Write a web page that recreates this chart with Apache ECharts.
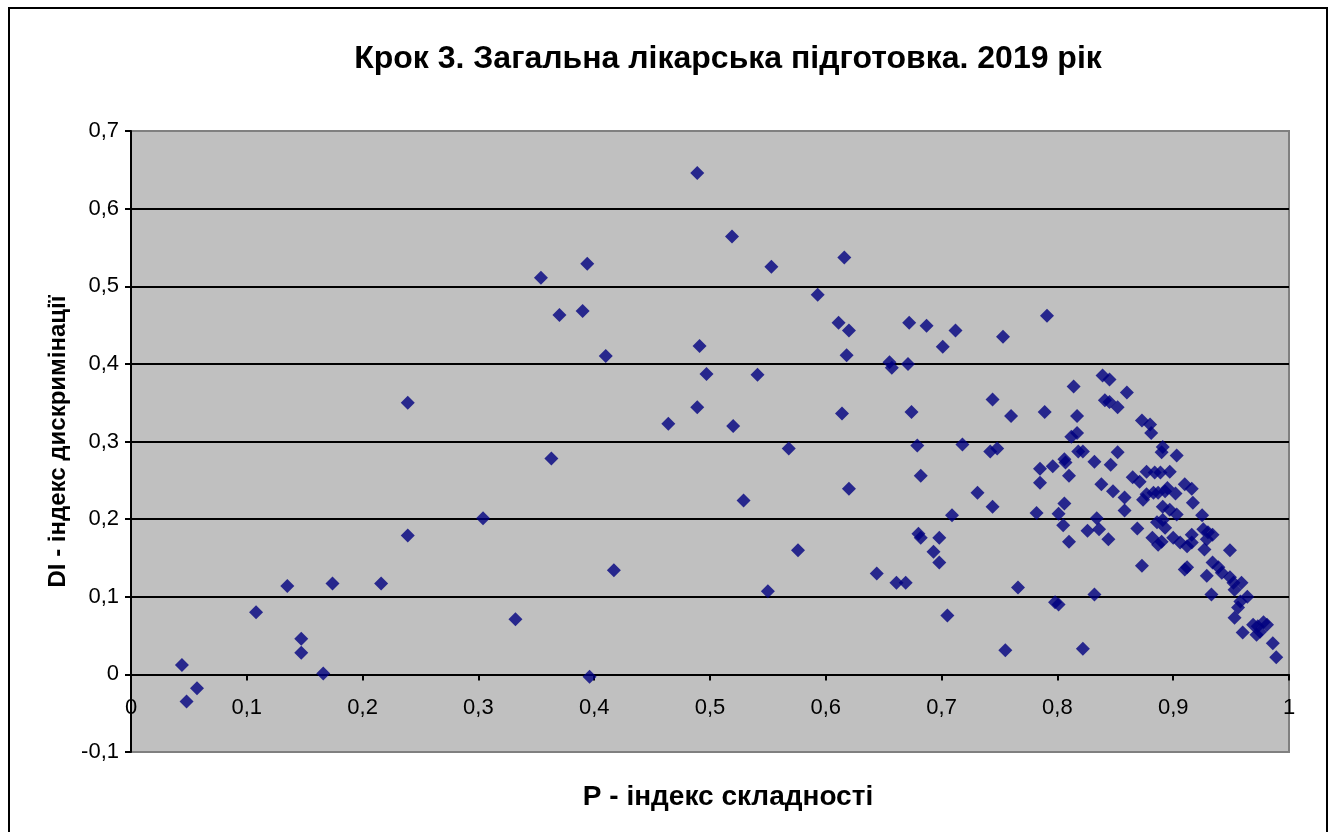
<!DOCTYPE html>
<html>
<head>
<meta charset="utf-8">
<script src="https://cdn.jsdelivr.net/npm/echarts@6/dist/echarts.min.js"></script>
<style>
html,body{margin:0;padding:0;background:#fff;overflow:hidden;}
#frame{position:absolute;left:8px;top:7px;width:1320px;height:840px;border:2px solid #000;box-sizing:border-box;}
#chart{position:absolute;left:0;top:0;width:1335px;height:832px;}
</style>
</head>
<body>
<div id="frame"></div>
<div id="chart"></div>
<script>
const titleText = 'Крок 3. Загальна лікарська підготовка. 2019 рік';
const xAxisName = 'P - індекс складності';
const yAxisName = 'DI - індекс дискримінації';
const xTicks = [0, 0.1, 0.2, 0.3, 0.4, 0.5, 0.6, 0.7, 0.8, 0.9, 1];
const yTicks = [-0.1, 0, 0.1, 0.2, 0.3, 0.4, 0.5, 0.6, 0.7];

// P (difficulty index) values
const pValues = [
0.044,0.048,0.057,0.108,0.135,0.147,0.147,0.166,0.174,0.216,0.239,0.239,0.304,0.332,0.354,0.363,0.370,0.390,0.394,0.396,
0.410,0.417,0.464,0.489,0.489,0.491,0.497,0.520,0.519,0.529,0.553,0.541,0.550,0.568,0.576,0.593,0.611,0.614,0.616,0.618,
0.620,0.620,
0.644,0.655,0.657,0.661,0.669,0.672,0.671,0.674,0.679,0.680,0.682,0.682,0.687,0.693,0.698,0.698,0.701,0.705,0.709,0.712,
0.718,0.731,0.742,0.744,0.744,0.748,0.753,0.755,0.760,0.766,
0.791,0.839,0.845,0.814,0.860,0.841,0.845,0.852,0.789,0.817,0.873,0.880,0.881,0.817,0.812,0.891,0.890,0.903,0.818,0.822,
0.852,0.832,0.806,0.807,0.785,0.796,0.810,0.846,0.785,0.838,0.848,0.865,0.871,0.877,0.884,0.889,0.897,0.910,0.916,0.858,
0.782,0.801,0.806,0.805,0.810,0.798,0.801,0.832,0.822,0.834,0.826,0.836,0.844,0.858,0.877,0.883,0.887,0.893,0.874,0.902,
0.891,0.897,0.903,0.886,0.891,0.893,0.882,0.887,0.890,0.900,0.906,0.912,0.916,0.917,0.925,0.916,0.926,0.930,0.934,0.929,
0.927,0.949,0.910,0.912,0.929,0.934,0.939,0.942,0.949,0.952,0.953,0.959,0.933,0.964,0.958,0.956,0.953,0.960,0.969,0.973,
0.978,0.981,0.972,0.975,0.986,0.989,0.873,0.869,0.895
];
// DI (discrimination index) values
const diValues = [
0.012,-0.035,-0.018,0.080,0.114,0.046,0.028,0.001,0.117,0.117,0.350,0.179,0.201,0.071,0.511,0.278,0.463,0.468,0.529,-0.003,
0.410,0.134,0.323,0.646,0.344,0.423,0.387,0.320,0.564,0.224,0.525,0.386,0.107,0.291,0.160,0.489,0.453,0.336,0.537,0.411,
0.443,0.239,
0.130,0.402,0.395,0.118,0.118,0.453,0.400,0.338,0.295,0.181,0.176,0.256,0.449,0.158,0.144,0.176,0.422,0.076,0.205,0.443,
0.296,0.234,0.287,0.354,0.216,0.291,0.435,0.031,0.333,0.112,
0.462,0.385,0.380,0.371,0.363,0.353,0.351,0.344,0.338,0.333,0.327,0.322,0.311,0.311,0.306,0.293,0.286,0.282,0.287,0.287,
0.286,0.274,0.277,0.273,0.265,0.268,0.256,0.270,0.247,0.245,0.236,0.254,0.248,0.261,0.260,0.260,0.261,0.245,0.239,0.228,
0.208,0.207,0.220,0.192,0.171,0.093,0.090,0.103,0.033,0.201,0.185,0.187,0.174,0.211,0.232,0.234,0.234,0.236,0.225,0.233,
0.216,0.212,0.206,0.196,0.199,0.189,0.176,0.167,0.171,0.176,0.170,0.165,0.170,0.221,0.205,0.180,0.187,0.183,0.180,0.174,
0.161,0.160,0.135,0.138,0.127,0.144,0.138,0.131,0.125,0.118,0.109,0.118,0.103,0.100,0.094,0.086,0.073,0.054,0.064,0.062,
0.067,0.064,0.051,0.055,0.040,0.022,0.140,0.188,0.240
];

const points = pValues.map((p, i) => [p, diValues[i]]);
const fmt = v => {
  const r = Number(v.toFixed(1));
  return String(r).replace('.', ',');
};
const lineColors = yTicks.map(t => (t === yTicks[0] || t === yTicks[yTicks.length-1]) ? '#808080' : '#000000');

const chart = echarts.init(document.getElementById('chart'));
chart.setOption({
  animation: false,
  backgroundColor: 'transparent',
  title: {
    text: titleText,
    left: 723, top: 38, textAlign: 'center',
    textStyle: { fontFamily: 'Liberation Sans, Arial', fontWeight: 'bold', fontSize: 32, color: '#000' }
  },
  grid: {
    left: 131, top: 131, right: 46, bottom: 80,
    outerBoundsMode: 'none', containLabel: false,
    show: true, backgroundColor: '#C0C0C0', borderColor: '#808080', borderWidth: 2
  },
  xAxis: {
    type: 'value', min: xTicks[0], max: xTicks[xTicks.length-1], interval: 0.1,
    name: xAxisName, nameLocation: 'middle', nameGap: 31,
    nameTextStyle: { fontFamily: 'Liberation Sans, Arial', fontWeight: 'bold', fontSize: 28, color: '#000', padding: [0, 0, 0, 36] },
    axisLine: { onZero: true, lineStyle: { color: '#000', width: 2 } },
    axisTick: { show: true, length: 6, inside: false, lineStyle: { color: '#000', width: 2 } },
    axisLabel: { formatter: fmt, fontFamily: 'Liberation Sans, Arial', fontSize: 22, color: '#000', margin: -55 },
    splitLine: { show: false }
  },
  yAxis: {
    type: 'value', min: yTicks[0], max: yTicks[yTicks.length-1], interval: 0.1,
    name: yAxisName, nameLocation: 'middle', nameGap: 51, nameRotate: 90,
    nameTextStyle: { fontFamily: 'Liberation Sans, Arial', fontWeight: 'bold', fontSize: 24, color: '#000' },
    axisLine: { show: true, onZero: false, lineStyle: { color: '#000', width: 2 } },
    axisTick: { show: true, length: 6, lineStyle: { color: '#000', width: 2 } },
    axisLabel: { formatter: fmt, fontFamily: 'Liberation Sans, Arial', fontSize: 22, color: '#000', margin: 12 },
    splitLine: { show: true, lineStyle: { color: lineColors, width: 2 } }
  },
  series: [{
    type: 'scatter',
    data: points,
    symbol: 'diamond',
    symbolSize: 14,
    itemStyle: { color: '#000080' }
  }]
});
</script>
</body>
</html>
